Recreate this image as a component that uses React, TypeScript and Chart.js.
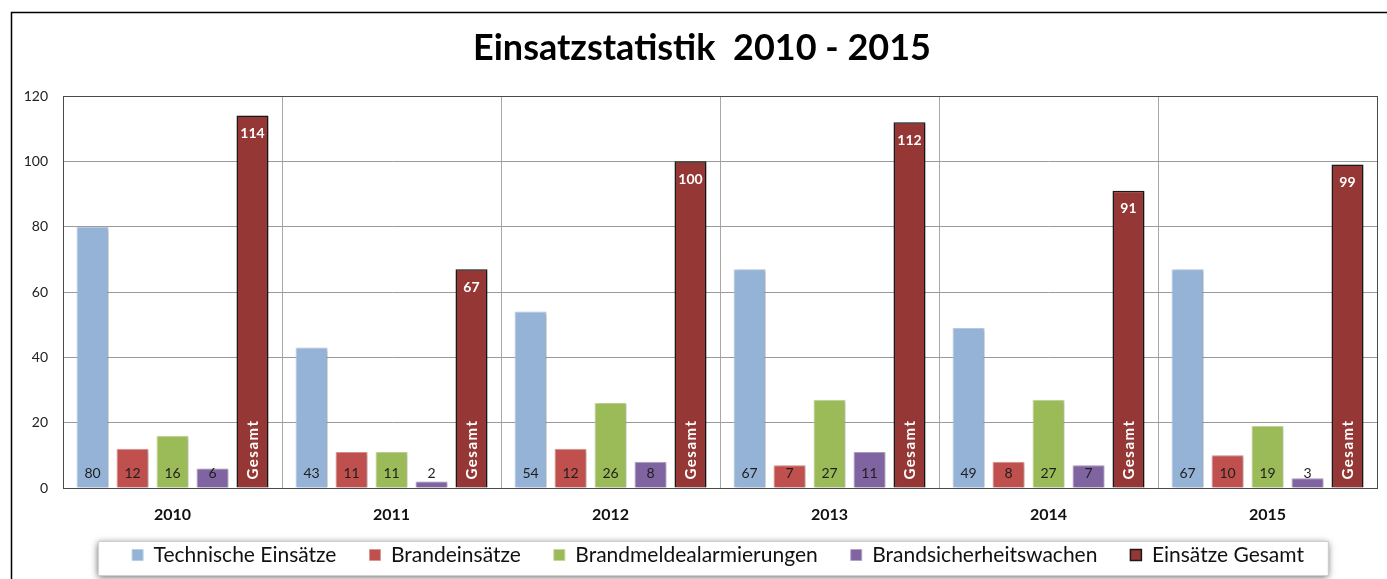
import React, { useEffect, useRef } from "react";
import { Chart, registerables } from "chart.js";

Chart.register(...registerables);

const years = ["2010", "2011", "2012", "2013", "2014", "2015"];
const technische = [80, 43, 54, 67, 49, 67];
const brandeinsaetze = [12, 11, 12, 7, 8, 10];
const brandmelde = [16, 11, 26, 27, 27, 19];
const sicherheitswachen = [6, 2, 8, 11, 7, 3];
const gesamt = [114, 67, 100, 112, 91, 99];
const seriesNames = [
  "Technische Einsätze",
  "Brandeinsätze",
  "Brandmeldealarmierungen",
  "Brandsicherheitswachen",
  "Einsätze Gesamt",
];
const titleText = "Einsatzstatistik  2010 - 2015";
const gesamtTag = "Gesamt";

const FONT = "Lato, 'Open Sans', sans-serif";

const decorPlugin = {
  id: "decor",
  afterLayout(chart: any) {
    const lg = chart.legend;
    if (lg) {
      lg.left += 24;
      lg.right += 24;
      lg.top -= 12.5;
      lg.bottom -= 12.5;
    }
    const tb = chart.titleBlock;
    if (tb) {
      tb.left += 8;
      tb.right += 8;
    }
  },
  beforeDraw(chart: any) {
    const ctx = chart.ctx;
    ctx.save();
    ctx.strokeStyle = "#000";
    ctx.lineWidth = 1.5;
    ctx.beginPath();
    ctx.moveTo(11.5, 579);
    ctx.lineTo(11.5, 12.5);
    ctx.lineTo(1387, 12.5);
    ctx.stroke();
    const hb = chart.legend && chart.legend.legendHitBoxes;
    if (hb && hb.length) {
      const first = hb[0];
      const last = hb[hb.length - 1];
      const x0 = first.left - 34;
      const x1 = last.left + last.width + 24;
      const cy = first.top + first.height / 2;
      const y0 = cy - 14;
      const y1 = cy + 20;
      ctx.shadowColor = "rgba(0,0,0,0.6)";
      ctx.shadowBlur = 7;
      ctx.shadowOffsetY = 2;
      ctx.fillStyle = "#fff";
      ctx.fillRect(x0, y0, x1 - x0, y1 - y0);
      ctx.shadowColor = "transparent";
      ctx.strokeStyle = "#cfcfcf";
      ctx.lineWidth = 1;
      ctx.strokeRect(x0 + 0.5, y0 + 0.5, x1 - x0, y1 - y0);
    }
    ctx.restore();
  },
  beforeDatasetsDraw(chart: any) {
    const ctx = chart.ctx;
    ctx.save();
    ctx.shadowColor = "rgba(0,0,0,0.28)";
    ctx.shadowBlur = 3;
    ctx.shadowOffsetX = 2;
    ctx.shadowOffsetY = 1;
  },
  afterDatasetsDraw(chart: any) {
    const ctx = chart.ctx;
    ctx.restore();
    ctx.save();
    const a = chart.chartArea;
    ctx.strokeStyle = "#4a4a4a";
    ctx.lineWidth = 1;
    ctx.strokeRect(Math.round(a.left) + 0.5, Math.round(a.top) + 0.5, Math.round(a.right - a.left), Math.round(a.bottom - a.top));
    ctx.textAlign = "center";
    ctx.textBaseline = "middle";
    chart.data.datasets.forEach((ds: any, di: number) => {
      const meta = chart.getDatasetMeta(di);
      meta.data.forEach((el: any, i: number) => {
        const v = ds.data[i];
        if (di < 4) {
          ctx.font = `14px ${FONT}`;
          ctx.fillStyle = "#1e1e1e";
          ctx.fillText(String(v), el.x, el.base - 14);
        } else {
          ctx.font = `bold 14px ${FONT}`;
          ctx.fillStyle = "#fff";
          ctx.fillText(String(v), el.x, el.y + 18);
          ctx.save();
          ctx.translate(el.x, el.base - 8);
          ctx.rotate(-Math.PI / 2);
          ctx.textAlign = "left";
          ctx.font = `bold 15px ${FONT}`;
          (ctx as any).letterSpacing = "1.5px";
          ctx.fillText(gesamtTag, 0, 1);
          ctx.restore();
        }
      });
    });
    ctx.restore();
  },
};

export default function App() {
  const ref = useRef<HTMLCanvasElement>(null);
  useEffect(() => {
    document.body.style.margin = "0";
    const canvas = ref.current!;
    const mk = (label: string, data: number[], bg: string, border: string, bw: number) => ({
      label,
      data,
      backgroundColor: bg,
      borderColor: border,
      borderWidth: bw,
      categoryPercentage: 0.913,
      barPercentage: 0.8,
    });
    const chart = new Chart(canvas, {
      type: "bar",
      data: {
        labels: years,
        datasets: [
          mk(seriesNames[0], technische, "#95B3D7", "#B9CDE5", 1),
          mk(seriesNames[1], brandeinsaetze, "#C0504D", "#D99694", 1),
          mk(seriesNames[2], brandmelde, "#9BBB59", "#C3D69B", 1),
          mk(seriesNames[3], sicherheitswachen, "#8064A2", "#B3A2C7", 1),
          mk(seriesNames[4], gesamt, "#953735", "#1a1a1a", 1.5),
        ],
      },
      options: {
        responsive: false,
        animation: false,
        devicePixelRatio: 1,
        layout: { padding: { left: 11, right: 10, top: 0, bottom: 0 } },
        plugins: {
          title: {
            display: true,
            text: titleText,
            color: "#000",
            font: { family: FONT, size: 36, weight: "bold" },
            padding: { top: 27, bottom: 25.8 },
          },
          legend: {
            position: "bottom",
            maxHeight: 55,
            labels: {
              boxWidth: 11,
              boxHeight: 11,
              padding: 33,
              color: "#111",
              font: { family: FONT, size: 21 },
            },
          },
          tooltip: { enabled: false },
        },
        scales: {
          x: {
            grid: { color: "#a8a8a8", offset: true, drawTicks: false },
            border: { color: "#7f7f7f" },
            ticks: { color: "#111", padding: 17, font: { family: FONT, size: 16, weight: "bold" } },
            afterFit: (s: any) => {
              s.height = 36;
            },
          },
          y: {
            min: 0,
            max: 120,
            ticks: { stepSize: 20, color: "#222", padding: 15, font: { family: FONT, size: 14 } },
            grid: { color: "#9a9a9a", drawTicks: false },
            border: { color: "#404040" },
            afterFit: (s: any) => {
              s.width = 52;
            },
          },
        },
      },
      plugins: [decorPlugin],
    } as any);
    return () => chart.destroy();
  }, []);
  return <canvas ref={ref} width={1387} height={579} style={{ display: "block", width: 1387, height: 579 }} />;
}
